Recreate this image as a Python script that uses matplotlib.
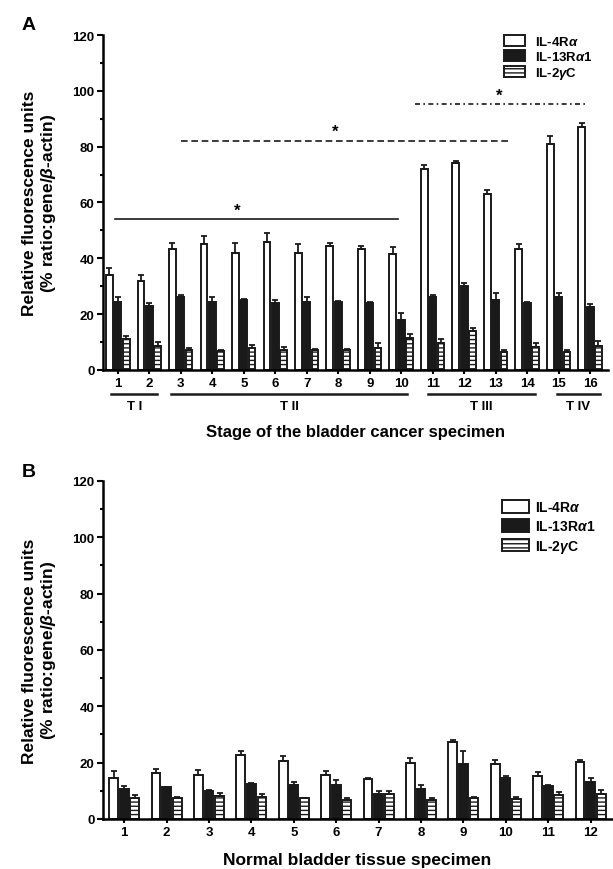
import matplotlib.pyplot as plt
import matplotlib.transforms as mtransforms
from matplotlib.ticker import MultipleLocator
import numpy as np

plt.rcParams['font.family'] = 'Liberation Sans'
plt.rcParams['font.weight'] = 'bold'
plt.rcParams['axes.labelweight'] = 'bold'
plt.rcParams['mathtext.fontset'] = 'custom'
plt.rcParams['mathtext.rm'] = 'Liberation Sans:bold'
plt.rcParams['mathtext.it'] = 'Liberation Sans:italic'
plt.rcParams['hatch.linewidth'] = 1.0

# panel A: bladder cancer specimens
cancer_ids = [str(i) for i in range(1, 17)]
cancer_il4 = [34, 32, 43.5, 45, 42, 46, 42, 44.5, 43.5, 41.5, 72, 74, 63, 43.5, 81, 87]
cancer_il4_err = [2.5, 2, 2, 3, 3.5, 3, 3, 1, 1, 2.5, 1.5, 1, 1.5, 1.5, 3, 1.5]
cancer_il13 = [24.5, 23, 26, 24.5, 25, 24, 24.5, 24.5, 24, 18, 26, 30, 25, 24, 26, 22.5]
cancer_il13_err = [1.5, 1, 1, 1.5, 0.3, 1, 1.5, 0.3, 0.3, 2.5, 1, 1, 2.5, 0.3, 1.5, 1]
cancer_il2 = [11, 8.5, 7, 6.8, 8, 7.3, 7, 7, 8, 11.5, 9.5, 14, 6.5, 8.3, 6.5, 8.5]
cancer_il2_err = [1, 1.5, 1, 0.5, 1, 1, 0.5, 0.5, 1.5, 1.5, 1.5, 1, 0.5, 1.5, 0.5, 2]

stages = ['T I', 'T II', 'T III', 'T IV']
stage_spans = [(0.8, 2.25), (2.7, 10.2), (10.85, 14.25), (14.95, 16.3)]

# panel B: normal bladder tissue
normal_ids = [str(i) for i in range(1, 13)]
normal_il4 = [14.6, 16.4, 15.5, 22.7, 20.7, 15.5, 14.2, 19.8, 27.2, 19.5, 15.1, 20.1]
normal_il4_err = [2.4, 1.2, 1.8, 1.6, 1.5, 1.5, 0.3, 2, 1, 1.5, 1.5, 0.8]
normal_il13 = [10.6, 11.2, 10, 12.4, 12, 12.2, 8.9, 10.7, 19.5, 14.4, 11.8, 13.1]
normal_il13_err = [1, 0.3, 0.4, 0.5, 1, 1.5, 1, 1.5, 4.5, 0.7, 0.2, 1.5]
normal_il2 = [7.5, 7.4, 8.2, 7.7, 7.3, 6.9, 8.9, 6.9, 7.5, 7.1, 8.5, 8.9]
normal_il2_err = [1, 0.3, 1, 1, 0.3, 0.5, 1.2, 0.5, 0.3, 0.8, 1, 1.5]

labels = [r'IL-4R$\alpha$', r'IL-13R$\alpha$1', r'IL-2$\gamma$C']


def draw_panel(ax, ids, series, errs, step, width):
    x = np.arange(1, len(ids) + 1)
    styles = [dict(color='white'), dict(color='#1a1a1a'), dict(color='white', hatch='----')]
    bars = []
    for k, (vals, err, st) in enumerate(zip(series, errs, styles)):
        pos = x + (k - 1) * step
        b = ax.bar(pos, vals, width, edgecolor='#1a1a1a', linewidth=1.4, label=labels[k], **st)
        ax.errorbar(pos, vals, yerr=[np.zeros(len(vals)), err], fmt='none',
                    ecolor='#1a1a1a', elinewidth=1.3, capsize=2, capthick=1.3)
        bars.append(b)
    ax.set_xticks(x)
    ax.set_xticklabels(ids, fontsize=9.5)
    ax.set_ylim(0, 120)
    ax.yaxis.set_major_locator(MultipleLocator(20))
    ax.yaxis.set_minor_locator(MultipleLocator(10))
    ax.tick_params(axis='y', which='major', length=4, width=1.5, labelsize=9.5, pad=2)
    ax.tick_params(axis='y', which='minor', length=2.5, width=1.5)
    ax.tick_params(axis='x', length=3, width=1.5, pad=2)
    for s in ['top', 'right']:
        ax.spines[s].set_visible(False)
    for s in ['left', 'bottom']:
        ax.spines[s].set_linewidth(1.8)
    ax.set_ylabel('Relative fluorescence units\n(% ratio:gene/$\\beta$-actin)', fontsize=12.5,
                  labelpad=10.5, linespacing=1.15)
    return bars


fig = plt.figure(figsize=(6.13, 8.7), dpi=100)
axA = fig.add_axes([0.168, 0.5736, 0.824, 0.385])
axB = fig.add_axes([0.168, 0.0575, 0.830, 0.3885])

barsA = draw_panel(axA, cancer_ids, [cancer_il4, cancer_il13, cancer_il2],
                   [cancer_il4_err, cancer_il13_err, cancer_il2_err], 0.265, 0.215)
axA.set_xlim(0.53, 16.57)
barsB = draw_panel(axB, normal_ids, [normal_il4, normal_il13, normal_il2],
                   [normal_il4_err, normal_il13_err, normal_il2_err], 0.25, 0.205)
axB.set_xlim(0.5, 12.5)

axA.legend(loc='upper left', bbox_to_anchor=(0.77, 1.035), frameon=False, fontsize=9.5,
           handlelength=1.6, handleheight=0.85, handletextpad=0.8, labelspacing=0.15)
axB.legend(loc='upper left', bbox_to_anchor=(0.76, 0.98), frameon=False, fontsize=10,
           handlelength=1.9, handleheight=1.0, handletextpad=0.5, labelspacing=0.35)

# significance brackets
axA.plot([0.9, 9.9], [54, 54], color='#1a1a1a', lw=1.2)
axA.text(4.8, 54.5, '*', ha='center', va='bottom', fontsize=12)
axA.plot([3.0, 13.5], [82.2, 82.2], color='#1a1a1a', lw=1.2, ls=(0, (4, 2.2)))
axA.text(7.9, 82.7, '*', ha='center', va='bottom', fontsize=12)
axA.plot([10.45, 15.85], [95.3, 95.3], color='#1a1a1a', lw=1.2, ls=(0, (3, 2, 1, 2)))
axA.text(13.1, 95.8, '*', ha='center', va='bottom', fontsize=12)

# stage groups under the axis
trans = mtransforms.blended_transform_factory(axA.transData, axA.transAxes)
for name, (a, b) in zip(stages, stage_spans):
    axA.plot([a, b], [-0.072, -0.072], color='#1a1a1a', lw=1.8, transform=trans, clip_on=False)
    axA.text((a + b) / 2, -0.107, name, ha='center', va='center', fontsize=9.5, transform=trans)

axA.text(0.5, -0.185, 'Stage of the bladder cancer specimen', ha='center', va='center',
         fontsize=12, transform=axA.transAxes)
axB.set_xlabel('Normal bladder tissue specimen', fontsize=12.5, labelpad=10)

fig.text(22 / 613, 1 - 25 / 870, 'A', fontsize=14, ha='left', va='center')
fig.text(22 / 613, 1 - 473 / 870, 'B', fontsize=14, ha='left', va='center')

fig.savefig('out.png', dpi=100)
